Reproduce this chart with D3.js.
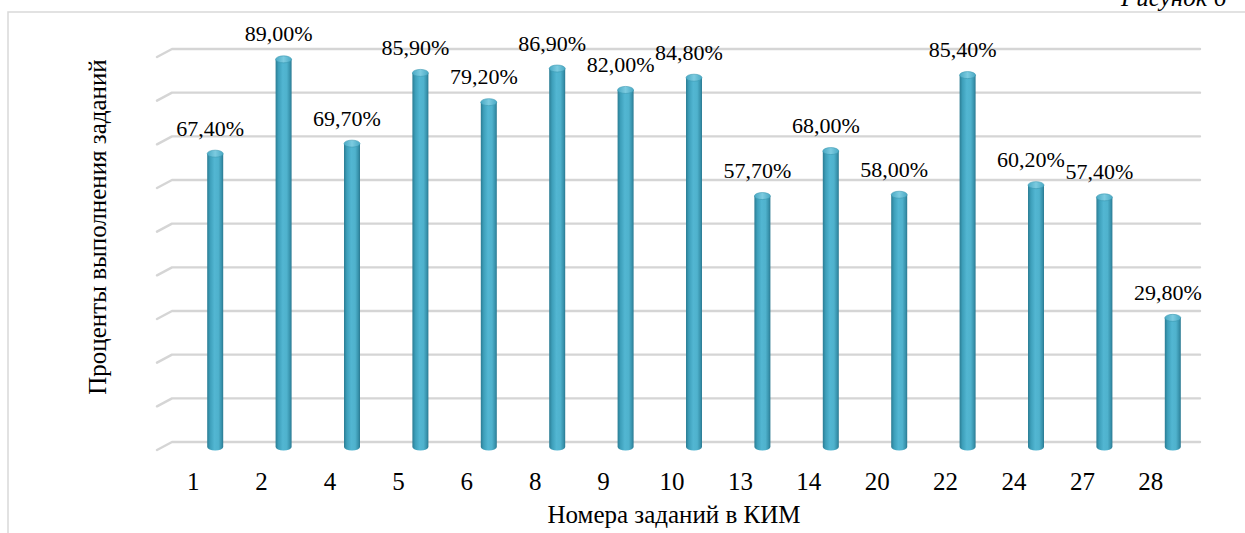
<!DOCTYPE html>
<html>
<head>
<meta charset="utf-8">
<script src="https://cdn.jsdelivr.net/npm/d3@7"></script>
<style>
html,body{margin:0;padding:0;background:#fff;}
svg{display:block;}
svg text{font-family:"Liberation Serif","DejaVu Serif",serif;fill:#000;}
</style>
</head>
<body>
<svg id="chart" width="1245" height="533"></svg>
<script>
const categories = ["1","2","4","5","6","8","9","10","13","14","20","22","24","27","28"];
const values = [67.4, 89.0, 69.7, 85.9, 79.2, 86.9, 82.0, 84.8, 57.7, 68.0, 58.0, 85.4, 60.2, 57.4, 29.8];
const gridTicks = [0,10,20,30,40,50,60,70,80,90];
const xTitle = "Номера заданий в КИМ";
const yTitle = "Проценты выполнения заданий";
const figCaption = "Рисунок 6";

const FONT = "Liberation Serif, DejaVu Serif, serif";
const svg = d3.select("#chart");
const fmt = v => d3.format(".2f")(v).replace(".", ",") + "%";

const x = d3.scaleBand().domain(categories).range([159, 1185]).padding(0);
const y = d3.scaleLinear().domain([0, 90]).range([450, 57]);

const depthX = 15, depthY = 8;
const barOffset = 22, barW = 16, ry = 3.5;

// defs
const defs = svg.append("defs");
const g1 = defs.append("linearGradient").attr("id","cyl").attr("x1","0").attr("x2","1").attr("y1","0").attr("y2","0");
[[0,"#2b7c93"],[0.18,"#3d9fba"],[0.45,"#52b6d2"],[0.7,"#4fb2cd"],[0.9,"#3791ab"],[1,"#2a7890"]].forEach(s=>g1.append("stop").attr("offset",s[0]).attr("stop-color",s[1]));
const g2 = defs.append("linearGradient").attr("id","cap").attr("x1","0").attr("x2","1").attr("y1","0").attr("y2","0");
[[0,"#4aa9c4"],[0.5,"#7ccbe0"],[1,"#4aa9c4"]].forEach(s=>g2.append("stop").attr("offset",s[0]).attr("stop-color",s[1]));

// frame
svg.append("path").attr("d","M8,533 L8,12 L1245,12").attr("fill","none").attr("stroke","#d9d9d9").attr("stroke-width",1.5);

// caption (cut off at top, as in the reference)
svg.append("text").attr("x",1121).attr("y",6).attr("font-family",FONT).attr("font-size",25).attr("font-style","italic").text(figCaption);

// gridlines (back wall + side wall diagonal)
const grid = svg.append("g");
gridTicks.forEach(t => {
  const yb = y(t) - depthY;
  grid.append("path")
    .attr("d", `M${x.range()[0]-2},${y(t)} L${x.range()[0]-2+depthX},${yb} L${x.range()[1]+depthX},${yb}`)
    .attr("fill","none").attr("stroke","#d5d5d5").attr("stroke-width",2.4).attr("stroke-linejoin","round").attr("stroke-linecap","round");
});

// bars
const bars = svg.append("g");
categories.forEach((c,i) => {
  const cx = x(c) + x.bandwidth()/2 + barOffset;
  const yt = y(values[i]) - 2;
  const yb = y(0) - 3;
  bars.append("path")
    .attr("d", `M${cx-barW/2},${yt} L${cx-barW/2},${yb} A${barW/2},${ry} 0 0 0 ${cx+barW/2},${yb} L${cx+barW/2},${yt} Z`)
    .attr("fill","url(#cyl)");
  bars.append("ellipse").attr("cx",cx).attr("cy",yt).attr("rx",barW/2).attr("ry",ry)
    .attr("fill","url(#cap)").attr("stroke","#3a98b2").attr("stroke-width",0.6);
});

// data labels
const labels = svg.append("g").attr("text-anchor","middle");
categories.forEach((c,i) => {
  const cx = x(c) + x.bandwidth()/2 + barOffset;
  labels.append("text").attr("x", cx - 5).attr("y", y(values[i]) - 20)
    .attr("font-family",FONT).attr("font-size",22).text(fmt(values[i]));
});

// category axis labels
const xl = svg.append("g").attr("text-anchor","middle");
categories.forEach(c => {
  xl.append("text").attr("x", x(c) + x.bandwidth()/2).attr("y", 490)
    .attr("font-family",FONT).attr("font-size",25).text(c);
});

// axis titles
svg.append("text").attr("x",674).attr("y",523).attr("font-family",FONT).attr("font-size",25).attr("text-anchor","middle").text(xTitle);
svg.append("text").attr("transform","translate(106,227) rotate(-90)").attr("font-family",FONT).attr("font-size",25).attr("text-anchor","middle").text(yTitle);
</script>
</body>
</html>
